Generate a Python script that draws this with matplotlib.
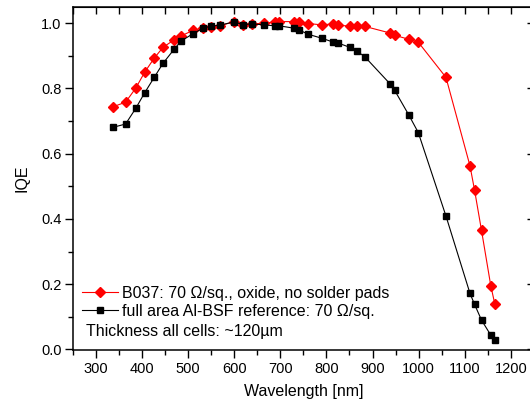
import matplotlib
matplotlib.use('Agg')
import matplotlib.pyplot as plt
from matplotlib.ticker import MultipleLocator

plt.rcParams['font.family'] = ['Liberation Sans', 'DejaVu Sans']

# wavelengths shared by both measurements [nm]
wavelength = [338, 365, 387, 406, 427, 446, 470, 485, 511, 533, 550, 569, 600, 619,
              639, 665, 688, 698, 729, 740, 761, 790, 815, 826, 851, 867, 884, 938,
              948, 978, 999, 1059, 1111, 1121, 1136, 1156, 1165]

# B037 cell
iqe_b037 = [0.744, 0.758, 0.801, 0.849, 0.893, 0.926, 0.949, 0.961, 0.978, 0.986,
            0.988, 0.992, 1.005, 0.996, 0.998, 1.000, 1.004, 1.005, 1.005, 1.005,
            0.999, 0.995, 0.998, 0.994, 0.991, 0.993, 0.990, 0.970, 0.963, 0.951,
            0.942, 0.834, 0.563, 0.488, 0.365, 0.196, 0.138]

# full area Al-BSF reference
iqe_ref = [0.681, 0.691, 0.739, 0.786, 0.834, 0.877, 0.920, 0.945, 0.968, 0.985,
           0.991, 0.994, 1.004, 0.996, 0.998, 0.995, 0.992, 0.992, 0.985, 0.980,
           0.966, 0.954, 0.942, 0.939, 0.926, 0.914, 0.896, 0.814, 0.794, 0.720,
           0.665, 0.409, 0.172, 0.138, 0.090, 0.044, 0.028]

label_b037 = 'B037: 70 \u03a9/sq., oxide, no solder pads'
label_ref = 'full area Al-BSF reference: 70 \u03a9/sq.'
note = 'Thickness all cells: ~120\u00b5m'

fig = plt.figure(figsize=(5.3, 4.07), dpi=100)
ax = fig.add_axes([0.1368, 0.139, 0.871, 0.844])

ax.plot(wavelength, iqe_b037, color='red', lw=0.8, marker='D', ms=5.5,
        mec='red', mfc='red', label=label_b037)
ax.plot(wavelength, iqe_ref, color='black', lw=0.8, marker='s', ms=4.3,
        mec='black', mfc='black', label=label_ref)

ax.set_xlim(250, 1250)
ax.set_ylim(-0.003, 1.05)
ax.xaxis.set_major_locator(MultipleLocator(100))
ax.xaxis.set_minor_locator(MultipleLocator(50))
ax.yaxis.set_major_locator(MultipleLocator(0.2))
ax.yaxis.set_minor_locator(MultipleLocator(0.1))
ax.yaxis.set_major_formatter(plt.FormatStrFormatter('%.1f'))
ax.tick_params(which='major', direction='out', length=6, width=1, labelsize=10.5, pad=2)
ax.tick_params(which='minor', direction='out', length=3.5, width=1)

# mirrored ticks on top and right, pointing inside
top = ax.secondary_xaxis('top')
top.xaxis.set_major_locator(MultipleLocator(100))
top.xaxis.set_minor_locator(MultipleLocator(50))
top.tick_params(which='both', direction='in', length=5, width=1, labeltop=False)
right = ax.secondary_yaxis('right')
right.yaxis.set_major_locator(MultipleLocator(0.2))
right.yaxis.set_minor_locator(MultipleLocator(0.1))
right.tick_params(which='major', direction='in', length=5, width=1, labelright=False)
right.tick_params(which='minor', direction='in', length=3, width=1)

for s in ax.spines.values():
    s.set_linewidth(1.1)

ax.set_xlabel('Wavelength [nm]', fontsize=11.5, labelpad=6)
ax.set_ylabel('IQE', fontsize=11.5, labelpad=8)

ax.legend(loc='center left', bbox_to_anchor=(0.02, 0.14), frameon=False,
          fontsize=11.5, handlelength=2.3, handletextpad=0.2, labelspacing=0.2,
          borderaxespad=0, borderpad=0)
ax.text(0.029, 0.054, note, transform=ax.transAxes, fontsize=11.5, va='center')

fig.savefig('out.png', dpi=100)
